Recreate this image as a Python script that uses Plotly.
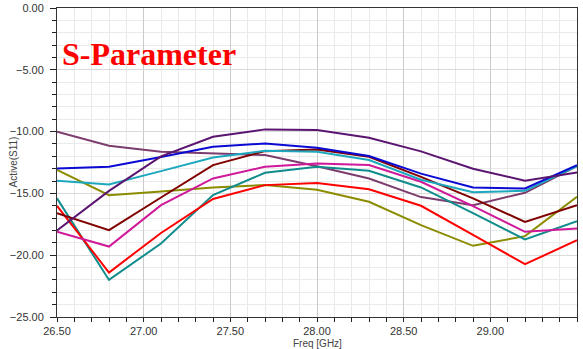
import plotly.graph_objects as go

# Frequency sweep points (GHz)
freq = [26.5, 26.8, 27.1, 27.4, 27.7, 28.0, 28.3, 28.6, 28.9, 29.2, 29.5]

# Active S11 (dB) per port
s11_plum = [-10.0, -11.15, -11.63, -11.77, -11.9, -12.8, -13.8, -15.3, -15.95, -14.95, -12.8]
s11_purple = [-18.0, -14.8, -12.0, -10.42, -9.82, -9.88, -10.5, -11.6, -13.0, -13.98, -13.3]
s11_blue = [-12.98, -12.85, -12.05, -11.23, -10.96, -11.3, -11.98, -13.4, -14.52, -14.6, -12.71]
s11_cyan = [-13.98, -14.28, -13.2, -12.09, -11.55, -11.63, -12.3, -13.9, -14.9, -14.79, -12.79]
s11_maroon = [-16.6, -17.97, -15.33, -12.71, -11.58, -11.44, -12.04, -13.66, -15.4, -17.3, -15.95]
s11_olive = [-13.1, -15.14, -14.85, -14.52, -14.33, -14.7, -15.68, -17.57, -19.24, -18.46, -15.28]
s11_magenta = [-18.1, -19.3, -15.95, -13.79, -12.85, -12.58, -12.71, -14.06, -16.03, -18.11, -17.84]
s11_red = [-16.0, -21.4, -18.2, -15.45, -14.33, -14.15, -14.66, -16.0, -18.35, -20.73, -18.79]
s11_teal = [-15.4, -22.0, -19.05, -15.14, -13.33, -12.85, -13.17, -14.52, -16.6, -18.73, -17.25]

series = [
    (s11_plum, "#7D3C6E"),
    (s11_olive, "#8C8C00"),
    (s11_teal, "#118C8C"),
    (s11_red, "#FF0000"),
    (s11_magenta, "#D0189A"),
    (s11_maroon, "#800000"),
    (s11_cyan, "#1CA8BE"),
    (s11_blue, "#0A0AD2"),
    (s11_purple, "#5B1470"),
]

fig = go.Figure()
for vals, color in series:
    fig.add_trace(go.Scatter(x=freq, y=vals, mode="lines",
                             line=dict(color=color, width=2),
                             showlegend=False, hoverinfo="skip"))

narrow = "Liberation Sans Narrow, Arial Narrow, Liberation Sans, Arial, sans-serif"
tick_font = dict(family=narrow, size=11, color="#333333")
title_font = dict(family=narrow, size=10, color="#444444")

fig.update_xaxes(
    range=[26.5, 29.5], tick0=26.5, dtick=0.5, tickformat=".2f",
    ticks="outside", ticklen=4, tickcolor="#222222", tickfont=tick_font,
    showline=True, linecolor="#333333", linewidth=1, mirror=True,
    showgrid=True, gridcolor="#CACACA", gridwidth=1, zeroline=False,
    minor=dict(dtick=0.1, tick0=26.5, ticks="outside", ticklen=4, tickcolor="#222222",
               showgrid=True, gridcolor="#EAEAEA", gridwidth=1),
    automargin=False,
)
fig.update_yaxes(
    range=[-25, 0], tick0=0, dtick=5, tickformat=".2f",
    ticks="outside", ticklen=6, tickcolor="#222222", tickfont=tick_font,
    ticklabelstandoff=4,
    showline=True, linecolor="#333333", linewidth=1, mirror=True,
    showgrid=True, gridcolor="#DADADA", gridwidth=1, zeroline=False,
    minor=dict(dtick=1, tick0=0, ticks="outside", ticklen=4, tickcolor="#222222",
               showgrid=True, gridcolor="#EAEAEA", gridwidth=1),
    automargin=False,
)

fig.update_layout(
    width=583, height=349,
    margin=dict(l=57, r=6, t=8, b=32),
    paper_bgcolor="white", plot_bgcolor="white",
    annotations=[
        dict(text="<b>S-Parameter</b>", x=0.006, y=-3.75, xref="paper", yref="y",
             xanchor="left", yanchor="middle", showarrow=False,
             font=dict(family="Liberation Serif, Times New Roman, serif", size=32, color="#FF0000")),
        dict(text="Freq [GHz]", x=0.5, y=0, xref="paper", yref="paper",
             xanchor="center", yanchor="middle", yshift=-26, showarrow=False, font=title_font),
        dict(text="Active(S11)", x=0, y=0.5, xref="paper", yref="paper",
             xanchor="center", yanchor="middle", xshift=-44, textangle=-90,
             showarrow=False, font=title_font),
    ],
)

fig.write_html("out.html")
